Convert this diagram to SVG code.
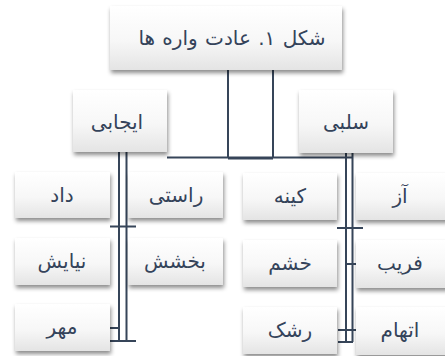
<svg xmlns="http://www.w3.org/2000/svg" width="445" height="356" viewBox="0 0 445 356">
<defs>
<linearGradient id="g" x1="0" y1="0" x2="0" y2="1">
<stop offset="0" stop-color="#ffffff"/>
<stop offset="0.55" stop-color="#f7f7f7"/>
<stop offset="1" stop-color="#e4e4e4"/>
</linearGradient>
<filter id="sh" x="-10%" y="-10%" width="125%" height="140%">
<feDropShadow dx="1" dy="3" stdDeviation="2" flood-color="#000" flood-opacity="0.45"/>
</filter>
</defs>
<style>
.box{fill:url(#g);filter:url(#sh);}
.t{font-family:"DejaVu Sans",sans-serif;font-size:20px;fill:#34435a;text-anchor:middle;direction:rtl;}
.tt{font-size:20px;word-spacing:1px;}
.c{stroke:#364559;stroke-width:2;fill:none;}
</style>
<rect width="445" height="356" fill="#ffffff"/>
<g id="connectors">
<path class="c" d="M228 70V158M273 70V158M167 157.5H352"/>
<path class="c" stroke-width="3" d="M228 158.5H273"/>
<path class="c" d="M119 152V341M126.5 152V341M110 226.5H136M110 328H119M110 341H136"/>
<path class="c" d="M346 153V342M352.5 153V342M337 228H363M346 264H356M338 330H356M338 342H353"/>
</g>
<g id="n-title"><rect class="box" x="110" y="6" width="232" height="64"/><text class="t tt" x="232" y="45">شکل ۱. عادت واره ها</text></g>
<g id="n-ijabi"><rect class="box" x="73" y="90" width="94" height="62"/><text class="t" x="117" y="129">ایجابی</text></g>
<g id="n-salbi"><rect class="box" x="299" y="90" width="94" height="63"/><text class="t" x="346" y="129">سلبی</text></g>
<g id="n-dad"><rect class="box" x="15" y="172" width="95" height="46"/><text class="t" x="62" y="202">داد</text></g>
<g id="n-rasti"><rect class="box" x="128" y="172" width="95" height="46"/><text class="t" x="176" y="202">راستی</text></g>
<g id="n-kineh"><rect class="box" x="243" y="173" width="94" height="47"/><text class="t" x="290" y="203">کینه</text></g>
<g id="n-az"><rect class="box" x="356" y="173" width="95" height="47"/><text class="t" x="400" y="203">آز</text></g>
<g id="n-niayesh"><rect class="box" x="15" y="238" width="95" height="47"/><text class="t" x="62" y="268">نیایش</text></g>
<g id="n-bakhshesh"><rect class="box" x="128" y="238" width="95" height="47"/><text class="t" x="175" y="268">بخشش</text></g>
<g id="n-khashm"><rect class="box" x="243" y="240" width="94" height="47"/><text class="t" x="290" y="270">خشم</text></g>
<g id="n-fareb"><rect class="box" x="356" y="240" width="95" height="48"/><text class="t" x="400" y="270">فریب</text></g>
<g id="n-mehr"><rect class="box" x="15" y="304" width="95" height="47"/><text class="t" x="62" y="334">مهر</text></g>
<g id="n-rashk"><rect class="box" x="243" y="307" width="94" height="47"/><text class="t" x="290" y="337">رشک</text></g>
<g id="n-ettaham"><rect class="box" x="356" y="307" width="95" height="48"/><text class="t" x="400" y="337">اتهام</text></g>
</svg>
